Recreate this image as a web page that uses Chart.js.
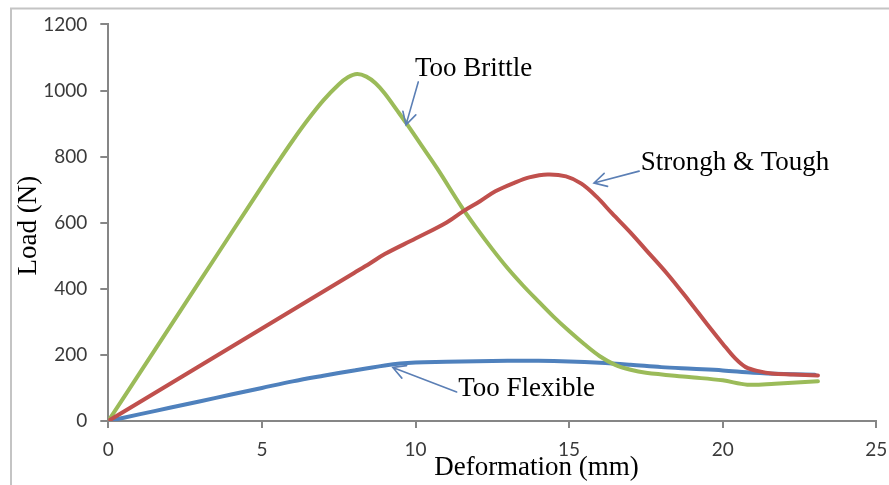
<!DOCTYPE html>
<html>
<head>
<meta charset="utf-8">
<script src="https://cdn.jsdelivr.net/npm/chart.js@4/dist/chart.umd.min.js"></script>
<style>
  html, body { margin: 0; padding: 0; background: #ffffff; }
  #wrap { width: 889px; height: 485px; position: relative; }
</style>
</head>
<body>
<div id="wrap"><canvas id="c"></canvas></div>
<script>
// ---- Data ----
const xTickValues = [0, 5, 10, 15, 20, 25];
const yTickValues = [0, 200, 400, 600, 800, 1000, 1200];

const brittleX = [0, 1, 2, 3, 4, 5, 5.5, 6, 6.5, 7, 7.5, 7.8, 8.1, 8.4, 8.7, 9, 9.4, 9.7, 10.2, 10.7, 11.5, 12, 12.5, 13, 13.5, 14, 14.5, 15, 15.5, 16, 16.5, 17, 17.5, 18.9, 20, 20.8, 21.7, 23.1];
const brittleY = [0, 142, 284, 426, 568, 710, 780, 848, 912, 970, 1018, 1040, 1050, 1042, 1022, 991, 940, 901, 833, 765, 648, 582, 520, 462, 410, 362, 315, 272, 232, 196, 170, 155, 146, 133, 123, 110, 113, 120];

const toughX = [0, 2, 4, 6, 8, 8.5, 9, 10, 11, 11.56, 12.1, 12.6, 13.2, 13.7, 14.3, 14.9, 15.4, 15.9, 16.4, 17, 17.5, 18.2, 18.9, 19.5, 20, 20.4, 20.75, 21.2, 21.6, 22.3, 23.1];
const toughY = [0, 112, 224, 336, 448, 476, 505, 552, 600, 635, 665, 695, 720, 737, 746, 740, 718, 678, 628, 570, 518, 445, 364, 292, 234, 190, 163, 150, 144, 141, 138];

const flexibleX = [0, 1, 2, 3, 4, 5, 6, 7, 8, 9, 9.5, 10, 11, 12, 13, 14, 15, 16, 17, 18, 19, 20, 21, 22, 23];
const flexibleY = [0, 20, 40, 60, 80, 100, 120, 137, 153, 168, 174, 177, 179, 181, 182, 182, 180, 176, 170, 163, 158, 153, 146, 142, 140];

const seriesNames = ['Strongh & Tough', 'Too Brittle', 'Too Flexible'];
const xTitle = 'Deformation (mm)';
const yTitle = 'Load (N)';

// annotation labels: text, x, y(baseline) in data units
const labelTexts = ['Too Brittle', 'Strongh & Tough', 'Too Flexible'];
const labelX = [9.98, 17.33, 11.39];
const labelY = [1044, 758, 76];
// arrows: from (x0,y0) to tip (x1,y1) in data units
const arrowX0 = [10.09, 17.28, 11.34];
const arrowY0 = [1026, 756, 88];
const arrowX1 = [9.69, 15.81, 9.26];
const arrowY1 = [896, 720, 162];

function pts(xs, ys) { return xs.map((x, i) => ({ x: x, y: ys[i] })); }

const SERIF = '"Liberation Serif", "Times New Roman", serif';
const TICKFONT = 'Lato, "Open Sans", sans-serif';
const AXIS = '#868686';

const decorPlugin = {
  id: 'decor',
  beforeDraw(chart) {
    const ctx = chart.ctx;
    ctx.save();
    ctx.fillStyle = '#ffffff';
    ctx.fillRect(0, 0, chart.width, chart.height);
    ctx.strokeStyle = '#c4c4c4';
    ctx.lineWidth = 2;
    ctx.beginPath();
    ctx.moveTo(11, chart.height);
    ctx.lineTo(11, 8.5);
    ctx.lineTo(chart.width, 8.5);
    ctx.stroke();
    ctx.restore();
  },
  afterDatasetsDraw(chart) {
    const ctx = chart.ctx;
    const xs = chart.scales.x, ys = chart.scales.y;
    ctx.save();
    // arrows
    ctx.strokeStyle = '#5b7fb5';
    ctx.lineWidth = 1.6;
    ctx.lineCap = 'round';
    for (let i = 0; i < arrowX0.length; i++) {
      const x0 = xs.getPixelForValue(arrowX0[i]), y0 = ys.getPixelForValue(arrowY0[i]);
      const x1 = xs.getPixelForValue(arrowX1[i]), y1 = ys.getPixelForValue(arrowY1[i]);
      const a = Math.atan2(y1 - y0, x1 - x0);
      const L = 14, w = 0.5;
      ctx.beginPath();
      ctx.moveTo(x0, y0);
      ctx.lineTo(x1, y1);
      ctx.moveTo(x1 - L * Math.cos(a - w), y1 - L * Math.sin(a - w));
      ctx.lineTo(x1, y1);
      ctx.lineTo(x1 - L * Math.cos(a + w), y1 - L * Math.sin(a + w));
      ctx.stroke();
    }
    // labels
    ctx.fillStyle = '#000000';
    ctx.font = '27px ' + SERIF;
    ctx.textAlign = 'left';
    ctx.textBaseline = 'alphabetic';
    for (let i = 0; i < labelTexts.length; i++) {
      ctx.fillText(labelTexts[i], xs.getPixelForValue(labelX[i]), ys.getPixelForValue(labelY[i]));
    }
    // axis titles
    ctx.textAlign = 'center';
    ctx.fillText(xTitle, 536.5, 475);
    ctx.translate(36, (chart.chartArea.top + chart.chartArea.bottom) / 2 + 3);
    ctx.rotate(-Math.PI / 2);
    ctx.fillText(yTitle, 0, 0);
    ctx.restore();
  }
};

const ds = (label, xs, ys, color) => ({
  label: label,
  data: pts(xs, ys),
  borderColor: color,
  backgroundColor: color,
  borderWidth: 4,
  pointRadius: 0,
  fill: false,
  tension: 0.35,
  borderCapStyle: 'round',
  borderJoinStyle: 'round'
});

new Chart(document.getElementById('c'), {
  type: 'line',
  data: {
    datasets: [
      ds(seriesNames[0], toughX, toughY, '#C0504D'),
      ds(seriesNames[1], brittleX, brittleY, '#9BBB59'),
      ds(seriesNames[2], flexibleX, flexibleY, '#4F81BD')
    ]
  },
  options: {
    responsive: true,
    maintainAspectRatio: false,
    animation: false,
    layout: { padding: { left: 0, top: 22.5, right: 12.7, bottom: 0 } },
    plugins: { legend: { display: false }, tooltip: { enabled: false } },
    scales: {
      x: {
        type: 'linear',
        min: 0, max: 25,
        afterBuildTicks(scale) { scale.ticks = xTickValues.map(v => ({ value: v })); },
        afterFit(scale) { scale.height = 64; scale.paddingRight = 10; scale.paddingLeft = 5; },
        grid: { drawOnChartArea: false, drawTicks: true, tickLength: 7, color: AXIS, lineWidth: 2 },
        border: { display: true, color: AXIS, width: 2 },
        ticks: { padding: 10, color: '#3a3a3a', font: { family: TICKFONT, size: 19 }, maxRotation: 0,
                 callback: v => String(v) }
      },
      y: {
        type: 'linear',
        min: 0, max: 1200,
        afterBuildTicks(scale) { scale.ticks = yTickValues.map(v => ({ value: v })); },
        afterFit(scale) { scale.width = 108.3; },
        grid: { drawOnChartArea: false, drawTicks: true, tickLength: 8, color: AXIS, lineWidth: 2 },
        border: { display: true, color: AXIS, width: 2 },
        ticks: { padding: 13, color: '#3a3a3a', font: { family: TICKFONT, size: 19 },
                 callback: v => String(v) }
      }
    }
  },
  plugins: [decorPlugin]
});
</script>
</body>
</html>
